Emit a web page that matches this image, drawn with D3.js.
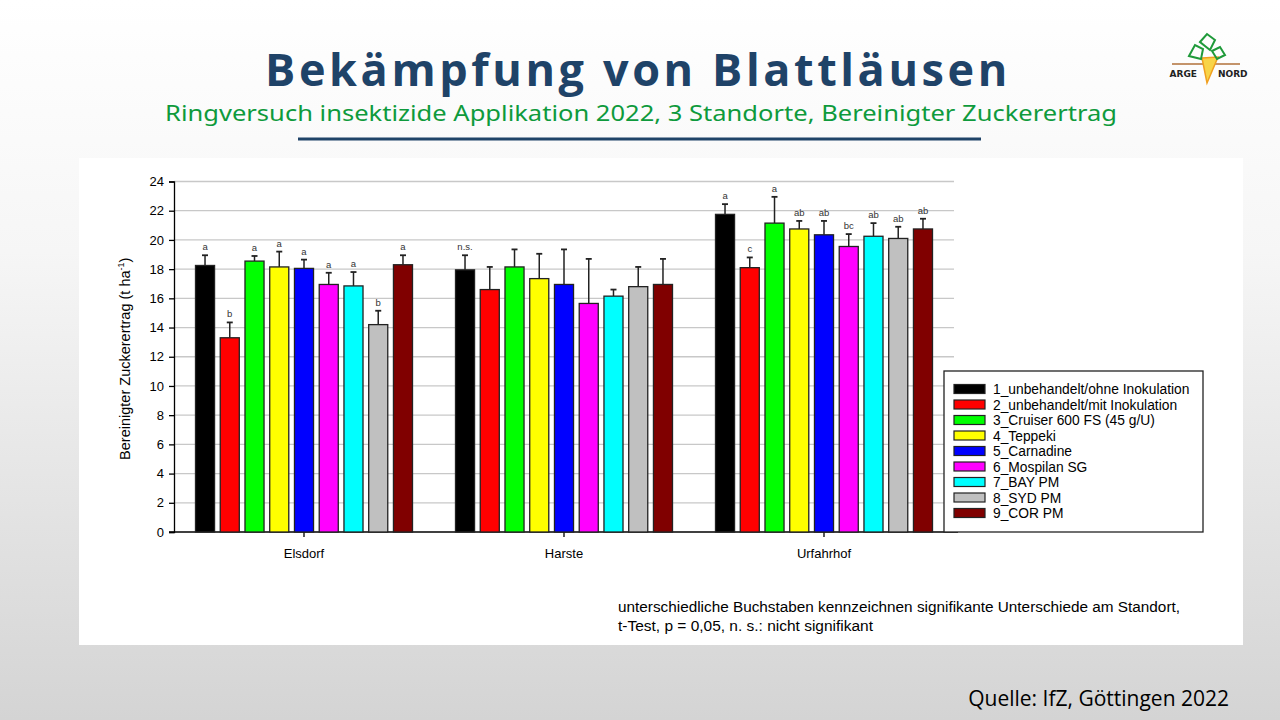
<!DOCTYPE html>
<html>
<head>
<meta charset="utf-8">
<title>Bekämpfung von Blattläusen</title>
<script src="https://cdn.jsdelivr.net/npm/d3@7"></script>
<style>
  body { margin: 0; }
  svg { display: block; }
</style>
</head>
<body>
<svg width="1280" height="720" id="mainsvg"></svg>
<script>

// data
const standorte = ['Elsdorf', 'Harste', 'Urfahrhof'];
const varianten = ['1_unbehandelt/ohne Inokulation', '2_unbehandelt/mit Inokulation', '3_Cruiser 600 FS (45 g/U)',
  '4_Teppeki', '5_Carnadine', '6_Mospilan SG', '7_BAY PM', '8_SYD PM', '9_COR PM'];
const farben = ['#000000', '#ff0000', '#00ff00', '#ffff00', '#0000ff', '#ff00ff', '#00ffff', '#c0c0c0', '#800000'];

const ertragElsdorf   = [18.25, 13.3, 18.55, 18.15, 18.05, 16.95, 16.85, 14.2, 18.3];
const ertragHarste    = [17.95, 16.6, 18.15, 17.35, 16.95, 15.65, 16.15, 16.8, 16.95];
const ertragUrfahrhof = [21.75, 18.1, 21.15, 20.75, 20.35, 19.55, 20.25, 20.1, 20.75];

// upper end of the error bars
const fehlerElsdorf   = [18.95, 14.35, 18.9, 19.2, 18.65, 17.75, 17.8, 15.15, 18.95];
const fehlerHarste    = [18.95, 18.15, 19.35, 19.05, 19.35, 18.7, 16.6, 18.15, 18.7];
const fehlerUrfahrhof = [22.45, 18.8, 22.95, 21.3, 21.3, 20.4, 21.15, 20.9, 21.45];

const buchstabenElsdorf   = ['a', 'b', 'a', 'a', 'a', 'a', 'a', 'b', 'a'];
const buchstabenHarste    = ['n.s.', '', '', '', '', '', '', '', ''];
const buchstabenUrfahrhof = ['a', 'c', 'a', 'ab', 'ab', 'bc', 'ab', 'ab', 'ab'];

const yTicks = [0, 2, 4, 6, 8, 10, 12, 14, 16, 18, 20, 22, 24];

const ertrag = [ertragElsdorf, ertragHarste, ertragUrfahrhof];
const fehler = [fehlerElsdorf, fehlerHarste, fehlerUrfahrhof];
const buchstaben = [buchstabenElsdorf, buchstabenHarste, buchstabenUrfahrhof];

const svg = d3.select('#mainsvg');
const width = +svg.attr('width');
const height = +svg.attr('height');

// slide background
const defs = svg.append('defs');
const grad = defs.append('linearGradient').attr('id', 'bg').attr('x1', 0).attr('y1', 0).attr('x2', 0).attr('y2', 1);
grad.append('stop').attr('offset', '0%').attr('stop-color', '#ffffff');
grad.append('stop').attr('offset', '35%').attr('stop-color', '#f6f6f6');
grad.append('stop').attr('offset', '100%').attr('stop-color', '#d4d4d4');
svg.append('rect').attr('width', width).attr('height', height).attr('fill', 'url(#bg)');

// title block
svg.append('text')
  .attr('x', 638).attr('y', 86)
  .attr('text-anchor', 'middle')
  .attr('font-family', '"Open Sans", sans-serif')
  .attr('font-weight', 'bold')
  .attr('font-size', 45)
  .attr('letter-spacing', 3.6)
  .attr('fill', '#1f4368')
  .text('Bekämpfung von Blattläusen');

svg.append('text')
  .attr('x', 641).attr('y', 121)
  .attr('text-anchor', 'middle')
  .attr('font-family', '"Noto Sans", sans-serif')
  .attr('font-size', 22)
  .attr('fill', '#0e9a3c')
  .attr('textLength', 952)
  .attr('lengthAdjust', 'spacingAndGlyphs')
  .text('Ringversuch insektizide Applikation 2022, 3 Standorte, Bereinigter Zuckerertrag');

svg.append('line')
  .attr('x1', 298).attr('x2', 981).attr('y1', 139).attr('y2', 139)
  .attr('stroke', '#1f4368').attr('stroke-width', 3);

// logo (simplified)
const logo = svg.append('g').attr('transform', 'translate(1207,64)');
logo.append('line').attr('x1', -35).attr('x2', 33).attr('y1', 0).attr('y2', 0)
  .attr('stroke', '#b0703a').attr('stroke-width', 1.5);
logo.append('path').attr('d', 'M-5,-6 L11,-7 L0,19 Z')
  .attr('fill', '#f8d448').attr('stroke', '#f0a020').attr('stroke-width', 1.5);
logo.append('path').attr('d', 'M-18,-8 L-12,-19 L-4,-15 L-6,-5 Z')
  .attr('fill', 'none').attr('stroke', '#1f9a3a').attr('stroke-width', 2);
logo.append('path').attr('d', 'M-7,-22 L0,-30 L8,-24 L3,-14 Z')
  .attr('fill', 'none').attr('stroke', '#1f9a3a').attr('stroke-width', 2);
logo.append('path').attr('d', 'M5,-13 L13,-17 L18,-9 L10,-5 Z')
  .attr('fill', 'none').attr('stroke', '#1f9a3a').attr('stroke-width', 2);
logo.append('text').attr('x', -10).attr('y', 13).attr('text-anchor', 'end')
  .attr('font-family', '"DejaVu Sans", sans-serif').attr('font-weight', 'bold').attr('font-size', 9)
  .attr('fill', '#222').text('ARGE');
logo.append('text').attr('x', 11).attr('y', 13)
  .attr('font-family', '"DejaVu Sans", sans-serif').attr('font-weight', 'bold').attr('font-size', 9)
  .attr('fill', '#222').text('NORD');

// white chart panel
svg.append('rect').attr('x', 79).attr('y', 158).attr('width', 1164).attr('height', 487).attr('fill', '#ffffff');

// chart area
const plotLeft = 174, plotRight = 954, plotTop = 181.5, plotBottom = 532;
const groupWidth = 217;
const chartFont = '"Liberation Sans", Arial, sans-serif';

const x0 = d3.scaleBand().domain(standorte).range([plotLeft, plotRight]);
const x1 = d3.scaleBand().domain(d3.range(varianten.length)).range([0, groupWidth]).paddingInner(0.23).paddingOuter(0);
const y = d3.scaleLinear().domain([0, 24]).range([plotBottom, plotTop]);

// grid
svg.append('g').selectAll('line').data(yTicks.filter(d => d > 0)).enter().append('line')
  .attr('x1', plotLeft).attr('x2', plotRight)
  .attr('y1', d => y(d)).attr('y2', d => y(d))
  .attr('stroke', '#c8c8c8').attr('stroke-width', 1.3);

// y axis
const yAxis = svg.append('g').attr('transform', `translate(${plotLeft},0)`)
  .call(d3.axisLeft(y).tickValues(yTicks).tickSize(5).tickPadding(5));
yAxis.select('.domain').attr('stroke', '#000').attr('stroke-width', 1.3);
yAxis.selectAll('.tick line').attr('stroke', '#000').attr('stroke-width', 1.3);
yAxis.selectAll('text').attr('font-family', chartFont).attr('font-size', 13).attr('fill', '#000');

// x axis
const xAxis = svg.append('g').attr('transform', `translate(0,${plotBottom})`)
  .call(d3.axisBottom(x0).tickSize(5).tickPadding(12).tickSizeOuter(0));
xAxis.select('.domain').attr('d', `M${plotLeft - 5},0H${plotRight + 4}`).attr('stroke', '#000').attr('stroke-width', 1.3);
xAxis.selectAll('.tick line').attr('stroke', '#000').attr('stroke-width', 1.3);
xAxis.selectAll('text').attr('font-family', chartFont).attr('font-size', 13).attr('fill', '#000');

// y label
svg.append('text')
  .attr('transform', `translate(130,${(plotTop + plotBottom) / 2 + 2}) rotate(-90)`)
  .attr('text-anchor', 'middle')
  .attr('font-family', chartFont).attr('font-size', 14.5).attr('fill', '#000')
  .call(t => {
    t.append('tspan').text('Bereinigter Zuckerertrag (t ha');
    t.append('tspan').attr('font-size', 9).attr('dy', -6).text('-1');
    t.append('tspan').attr('dy', 6).text(')');
  });

// bars
const rows = [];
standorte.forEach((s, gi) => {
  varianten.forEach((v, i) => {
    rows.push({ s: s, i: i, wert: ertrag[gi][i], fehler: fehler[gi][i], buchstabe: buchstaben[gi][i] });
  });
});
const groupOffset = (x0.bandwidth() - groupWidth) / 2;
const bx = d => x0(d.s) + groupOffset + x1(d.i);

const marks = svg.append('g').selectAll('g').data(rows).enter().append('g');

marks.append('line')
  .attr('x1', d => bx(d) + x1.bandwidth() / 2).attr('x2', d => bx(d) + x1.bandwidth() / 2)
  .attr('y1', d => y(d.wert)).attr('y2', d => y(d.fehler))
  .attr('stroke', '#222').attr('stroke-width', 1.5);
marks.append('line')
  .attr('x1', d => bx(d) + x1.bandwidth() / 2 - 3).attr('x2', d => bx(d) + x1.bandwidth() / 2 + 3)
  .attr('y1', d => y(d.fehler)).attr('y2', d => y(d.fehler))
  .attr('stroke', '#222').attr('stroke-width', 1.8);

marks.append('rect')
  .attr('x', d => bx(d))
  .attr('y', d => y(d.wert))
  .attr('width', x1.bandwidth())
  .attr('height', d => y(0) - y(d.wert))
  .attr('fill', d => farben[d.i])
  .attr('stroke', '#222').attr('stroke-width', 1.3);

marks.append('text')
  .attr('x', d => bx(d) + x1.bandwidth() / 2)
  .attr('y', d => y(d.fehler) - 5)
  .attr('text-anchor', 'middle')
  .attr('font-family', chartFont).attr('font-size', 9.5).attr('fill', '#333')
  .text(d => d.buchstabe);

// legend
const legend = svg.append('g').attr('transform', 'translate(944,371)');
legend.append('rect').attr('width', 259).attr('height', 161)
  .attr('fill', '#fff').attr('stroke', '#222').attr('stroke-width', 1.3);
const items = legend.selectAll('g').data(varianten).enter().append('g')
  .attr('transform', (d, i) => `translate(0,${18 + i * 15.5})`);
items.append('rect').attr('x', 10).attr('y', -4.5).attr('width', 31).attr('height', 9)
  .attr('fill', (d, i) => farben[i]).attr('stroke', '#222').attr('stroke-width', 1.2);
items.append('text').attr('x', 49).attr('y', 5)
  .attr('font-family', chartFont).attr('font-size', 13.8).attr('fill', '#000')
  .text(d => d);

// notes
const notes = ['unterschiedliche Buchstaben kennzeichnen signifikante Unterschiede am Standort,',
  't-Test, p = 0,05, n. s.: nicht signifikant'];
svg.append('text').attr('x', 618).attr('y', 612)
  .attr('font-family', chartFont).attr('font-size', 14).attr('fill', '#000')
  .attr('textLength', 562).attr('lengthAdjust', 'spacingAndGlyphs')
  .text(notes[0]);
svg.append('text').attr('x', 618).attr('y', 631)
  .attr('font-family', chartFont).attr('font-size', 14).attr('fill', '#000')
  .attr('textLength', 255).attr('lengthAdjust', 'spacingAndGlyphs')
  .text(notes[1]);

svg.append('text').attr('x', 1229).attr('y', 706)
  .attr('text-anchor', 'end')
  .attr('font-family', '"Open Sans", sans-serif').attr('font-size', 21).attr('fill', '#000')
  .text('Quelle: IfZ, Göttingen 2022');

</script>
</body>
</html>
